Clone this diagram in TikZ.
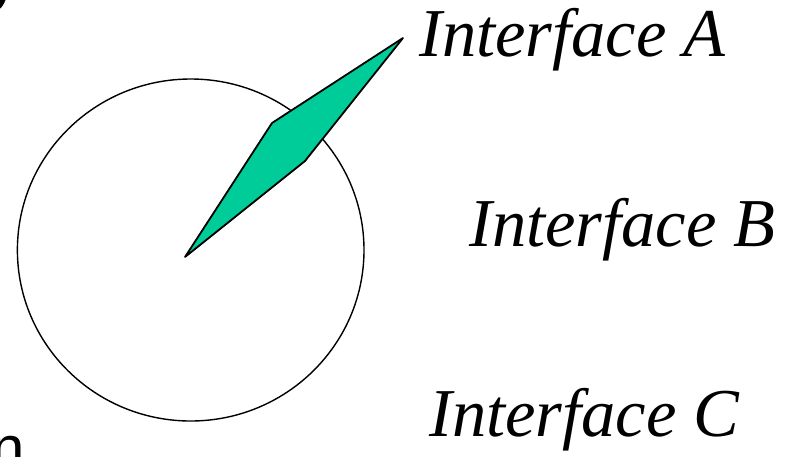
\documentclass[tikz,border=0pt]{standalone}
\usepackage{fontspec}
\setmainfont{Liberation Serif}
\newfontfamily\arialf{Liberation Sans}
\definecolor{needle}{RGB}{0,204,153}
\begin{document}
\begin{tikzpicture}[x=1pt,y=-1pt,
  lbl/.style={anchor=base west,inner sep=0pt,font=\fontsize{68.5}{72}\selectfont\itshape},
  ring/.style={draw=black,line width=1.4pt},
  blade/.style={draw=black,fill=needle,line width=1.8pt,line join=round}]
\useasboundingbox (0,0) rectangle (806,456);
\clip (0,0) rectangle (806,456);
\draw[ring] (190.7,250) ellipse [x radius=173.3, y radius=171];
\coordinate (p1) at (185,257);
\coordinate (p2) at (272,123);
\coordinate (p3) at (403,38);
\coordinate (p4) at (305,161);
\draw[blade] (p1) -- (p2) -- (p3) -- (p4) -- cycle;
\node[lbl] (ia) at (419,56) {Interface A};
\node[lbl] (ib) at (469,246) {Interface B};
\node[lbl] (ic) at (429,436) {Interface C};
\node[anchor=base west,inner sep=0pt,font=\arialf\fontsize{60}{64}\selectfont] (nn) at (-9,468) {n};
\fill[black] (0,0) -- (5.5,0) .. controls (4,4) and (2,7) .. (0,8.5) -- cycle;
\end{tikzpicture}
\end{document}
